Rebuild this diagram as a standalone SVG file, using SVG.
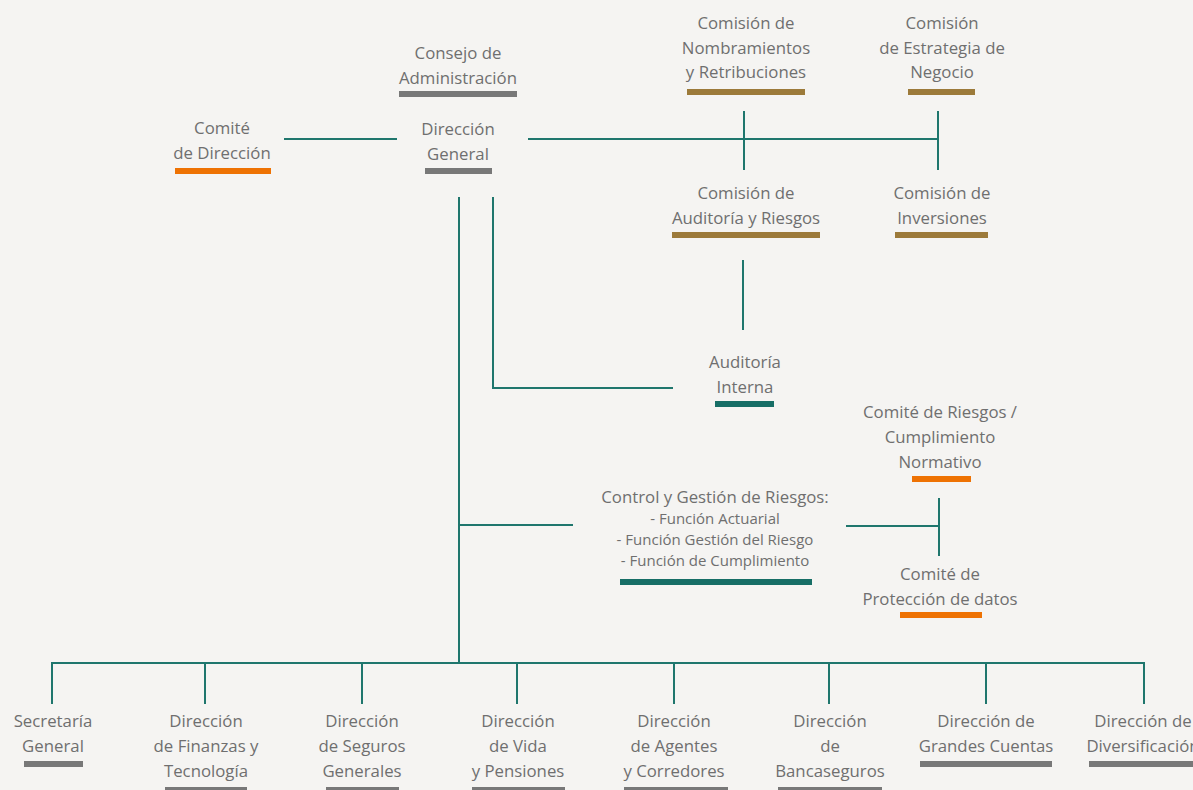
<svg xmlns="http://www.w3.org/2000/svg" width="1193" height="790" viewBox="0 0 1193 790">
<style>
text{font-family:"Open Sans","Noto Sans",sans-serif;font-size:16.8px;fill:#6f6f6f;text-anchor:middle}
.s{font-size:15px}
.c{stroke:#1f766d;stroke-width:2;fill:none}
.g{fill:#787878}.o{fill:#ee7203}.y{fill:#9c7a3a}.t{fill:#176e66}
</style>
<rect width="1193" height="790" fill="#f5f4f2"/>
<g id="connectors" class="c">
<path d="M284 139H397M528 139H938M744 111V170M938 111V170M743 260V330"/>
<path d="M493 197V388H673M459 197V663M459 525H573M846 526H940M939 498V556"/>
<path d="M52 704V663H1144V704M205 663V704M362 663V704M517 663V704M674 663V704M829 663V704M986 663V704"/>
</g>
<g id="consejo"><text x="458" y="59">Consejo de</text><text x="458" y="84">Administración</text><rect class="g" x="399" y="91" width="118" height="6"/></g>
<g id="direccion-general"><text x="458" y="135">Dirección</text><text x="458" y="160">General</text><rect class="g" x="425" y="168" width="67" height="6"/></g>
<g id="comite-direccion"><text x="222" y="134">Comité</text><text x="222" y="159">de Dirección</text><rect class="o" x="175" y="168" width="96" height="6"/></g>
<g id="com-nombramientos"><text x="746" y="29">Comisión de</text><text x="746" y="54">Nombramientos</text><text x="746" y="78">y Retribuciones</text><rect class="y" x="687" y="89" width="118" height="6"/></g>
<g id="com-estrategia"><text x="942" y="29">Comisión</text><text x="942" y="54">de Estrategia de</text><text x="942" y="78">Negocio</text><rect class="y" x="908" y="89" width="67" height="6"/></g>
<g id="com-auditoria"><text x="746" y="199">Comisión de</text><text x="746" y="224">Auditoría y Riesgos</text><rect class="y" x="672" y="232" width="148" height="6"/></g>
<g id="com-inversiones"><text x="942" y="199">Comisión de</text><text x="942" y="224">Inversiones</text><rect class="y" x="895" y="232" width="93" height="6"/></g>
<g id="auditoria-interna"><text x="745" y="368">Auditoría</text><text x="745" y="393">Interna</text><rect class="t" x="715" y="401" width="59" height="6"/></g>
<g id="comite-riesgos"><text x="940" y="418">Comité de Riesgos /</text><text x="940" y="443">Cumplimiento</text><text x="940" y="468">Normativo</text><rect class="o" x="912" y="476" width="59" height="6"/></g>
<g id="control-riesgos"><text x="715" y="503">Control y Gestión de Riesgos:</text><text class="s" x="715" y="524">- Función Actuarial</text><text class="s" x="715" y="545">- Función Gestión del Riesgo</text><text class="s" x="715" y="566">- Función de Cumplimiento</text><rect class="t" x="620" y="579" width="192" height="6"/></g>
<g id="comite-proteccion"><text x="940" y="580">Comité de</text><text x="940" y="605">Protección de datos</text><rect class="o" x="900" y="612" width="82" height="6"/></g>
<g id="secretaria"><text x="53" y="727">Secretaría</text><text x="53" y="752">General</text><rect class="g" x="24" y="761" width="59" height="6"/></g>
<g id="finanzas"><text x="206" y="727">Dirección</text><text x="206" y="752">de Finanzas y</text><text x="206" y="777">Tecnología</text><rect class="g" x="165" y="787" width="82" height="6"/></g>
<g id="seguros"><text x="362" y="727">Dirección</text><text x="362" y="752">de Seguros</text><text x="362" y="777">Generales</text><rect class="g" x="326" y="787" width="73" height="6"/></g>
<g id="vida"><text x="518" y="727">Dirección</text><text x="518" y="752">de Vida</text><text x="518" y="777">y Pensiones</text><rect class="g" x="472" y="787" width="93" height="6"/></g>
<g id="agentes"><text x="674" y="727">Dirección</text><text x="674" y="752">de Agentes</text><text x="674" y="777">y Corredores</text><rect class="g" x="624" y="787" width="104" height="6"/></g>
<g id="bancaseguros"><text x="830" y="727">Dirección</text><text x="830" y="752">de</text><text x="830" y="777">Bancaseguros</text><rect class="g" x="778" y="787" width="104" height="6"/></g>
<g id="grandes-cuentas"><text x="986" y="727">Dirección de</text><text x="986" y="752">Grandes Cuentas</text><rect class="g" x="920" y="761" width="132" height="6"/></g>
<g id="diversificacion"><text x="1143" y="727">Dirección de</text><text x="1143" y="752">Diversificación</text><rect class="g" x="1089" y="761" width="110" height="6"/></g>
</svg>
